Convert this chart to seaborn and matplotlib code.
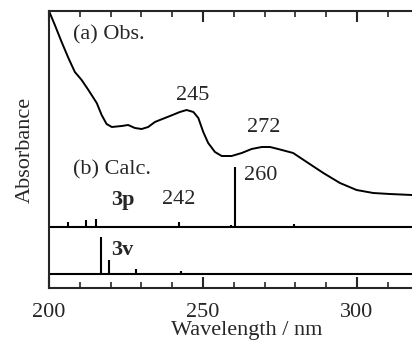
import matplotlib
matplotlib.use("Agg")
import matplotlib.pyplot as plt
import seaborn as sns
import pandas as pd

# observed spectrum (a)
obs_nm = [200.0, 201.9, 204.1, 206.3, 208.4, 210.6, 212.8, 215.5, 217.1, 218.7,
          220.4, 223.6, 225.7, 227.9, 230.1, 232.2, 234.4, 236.0, 239.3, 242.5,
          244.7, 246.9, 248.5, 250.1, 251.7, 253.9, 256.1, 259.3, 262.6, 265.8,
          269.1, 271.8, 274.4, 279.3, 283.7, 289.1, 294.5, 299.9, 305.3, 310.7,
          317.9]
obs_abs = [2.77, 2.63, 2.46, 2.30, 2.16, 2.08, 1.98, 1.85, 1.73, 1.64,
           1.61, 1.62, 1.63, 1.60, 1.59, 1.61, 1.66, 1.68, 1.72, 1.76,
           1.78, 1.76, 1.70, 1.56, 1.45, 1.36, 1.32, 1.32, 1.35, 1.39,
           1.41, 1.41, 1.39, 1.35, 1.26, 1.15, 1.05, 0.98, 0.95, 0.94,
           0.93]

# calculated transitions (b)
p3_nm = [206.2, 211.9, 215.2, 242.2, 259.0, 260.5, 279.5]
p3_f = [0.05, 0.07, 0.08, 0.05, 0.02, 0.60, 0.03]
v3_nm = [216.9, 219.6, 228.2, 242.9]
v3_f = [0.37, 0.14, 0.05, 0.03]

base_3p = 0.61
base_3v = 0.14

sns.set_style("ticks")
plt.rcParams['font.family'] = ['Liberation Serif', 'DejaVu Serif']

fig = plt.figure(figsize=(4.12, 3.42), dpi=100)
ax = fig.add_axes([49/412, 54/342, 363/412, 277/342])

df = pd.DataFrame({'nm': obs_nm, 'abs': obs_abs})
sns.lineplot(data=df, x='nm', y='abs', ax=ax, color='black', lw=1.4,
             solid_joinstyle='round')

ax.axhline(base_3p, color='black', lw=1.5)
ax.axhline(base_3v, color='black', lw=1.5)
ax.vlines(p3_nm, base_3p, [base_3p + f for f in p3_f], color='black', lw=1.5)
ax.vlines(v3_nm, base_3v, [base_3v + f for f in v3_f], color='black', lw=1.5)

fs = 16
ax.text(207.8, 2.53, '(a) Obs.', fontsize=fs, ha='left', va='center')
ax.text(246.8, 1.93, '245', fontsize=fs, ha='center', va='center')
ax.text(269.6, 1.60, '272', fontsize=fs, ha='center', va='center')
ax.text(207.8, 1.18, '(b) Calc.', fontsize=fs, ha='left', va='center')
ax.text(220.1, 0.88, '3p', fontsize=fs, ha='left', va='center', fontweight='bold')
ax.text(242.2, 0.88, '242', fontsize=fs, ha='center', va='center')
ax.text(263.3, 1.13, '260', fontsize=fs, ha='left', va='center')
ax.text(220.1, 0.38, '3v', fontsize=fs, ha='left', va='center', fontweight='bold')

ax.set_xlim(200, 317.9)
ax.set_ylim(0, 2.77)
ax.set_xticks([200, 250, 300])
ax.set_xticks(range(210, 320, 10), minor=True)
ax.set_yticks([])
ax.tick_params(axis='x', which='major', direction='in', length=8, width=1.5,
               top=True, labelsize=fs, pad=11)
ax.tick_params(axis='x', which='minor', direction='in', length=4.5, width=1.2, top=True)
for s in ['left', 'top', 'bottom']:
    ax.spines[s].set_linewidth(1.5)
ax.spines['right'].set_visible(False)

ax.set_xlabel('Wavelength / nm', fontsize=fs)
ax.xaxis.set_label_coords(0.545, -0.118)
ax.set_ylabel('Absorbance', fontsize=fs, labelpad=10)

fig.savefig('out.png', dpi=100)
